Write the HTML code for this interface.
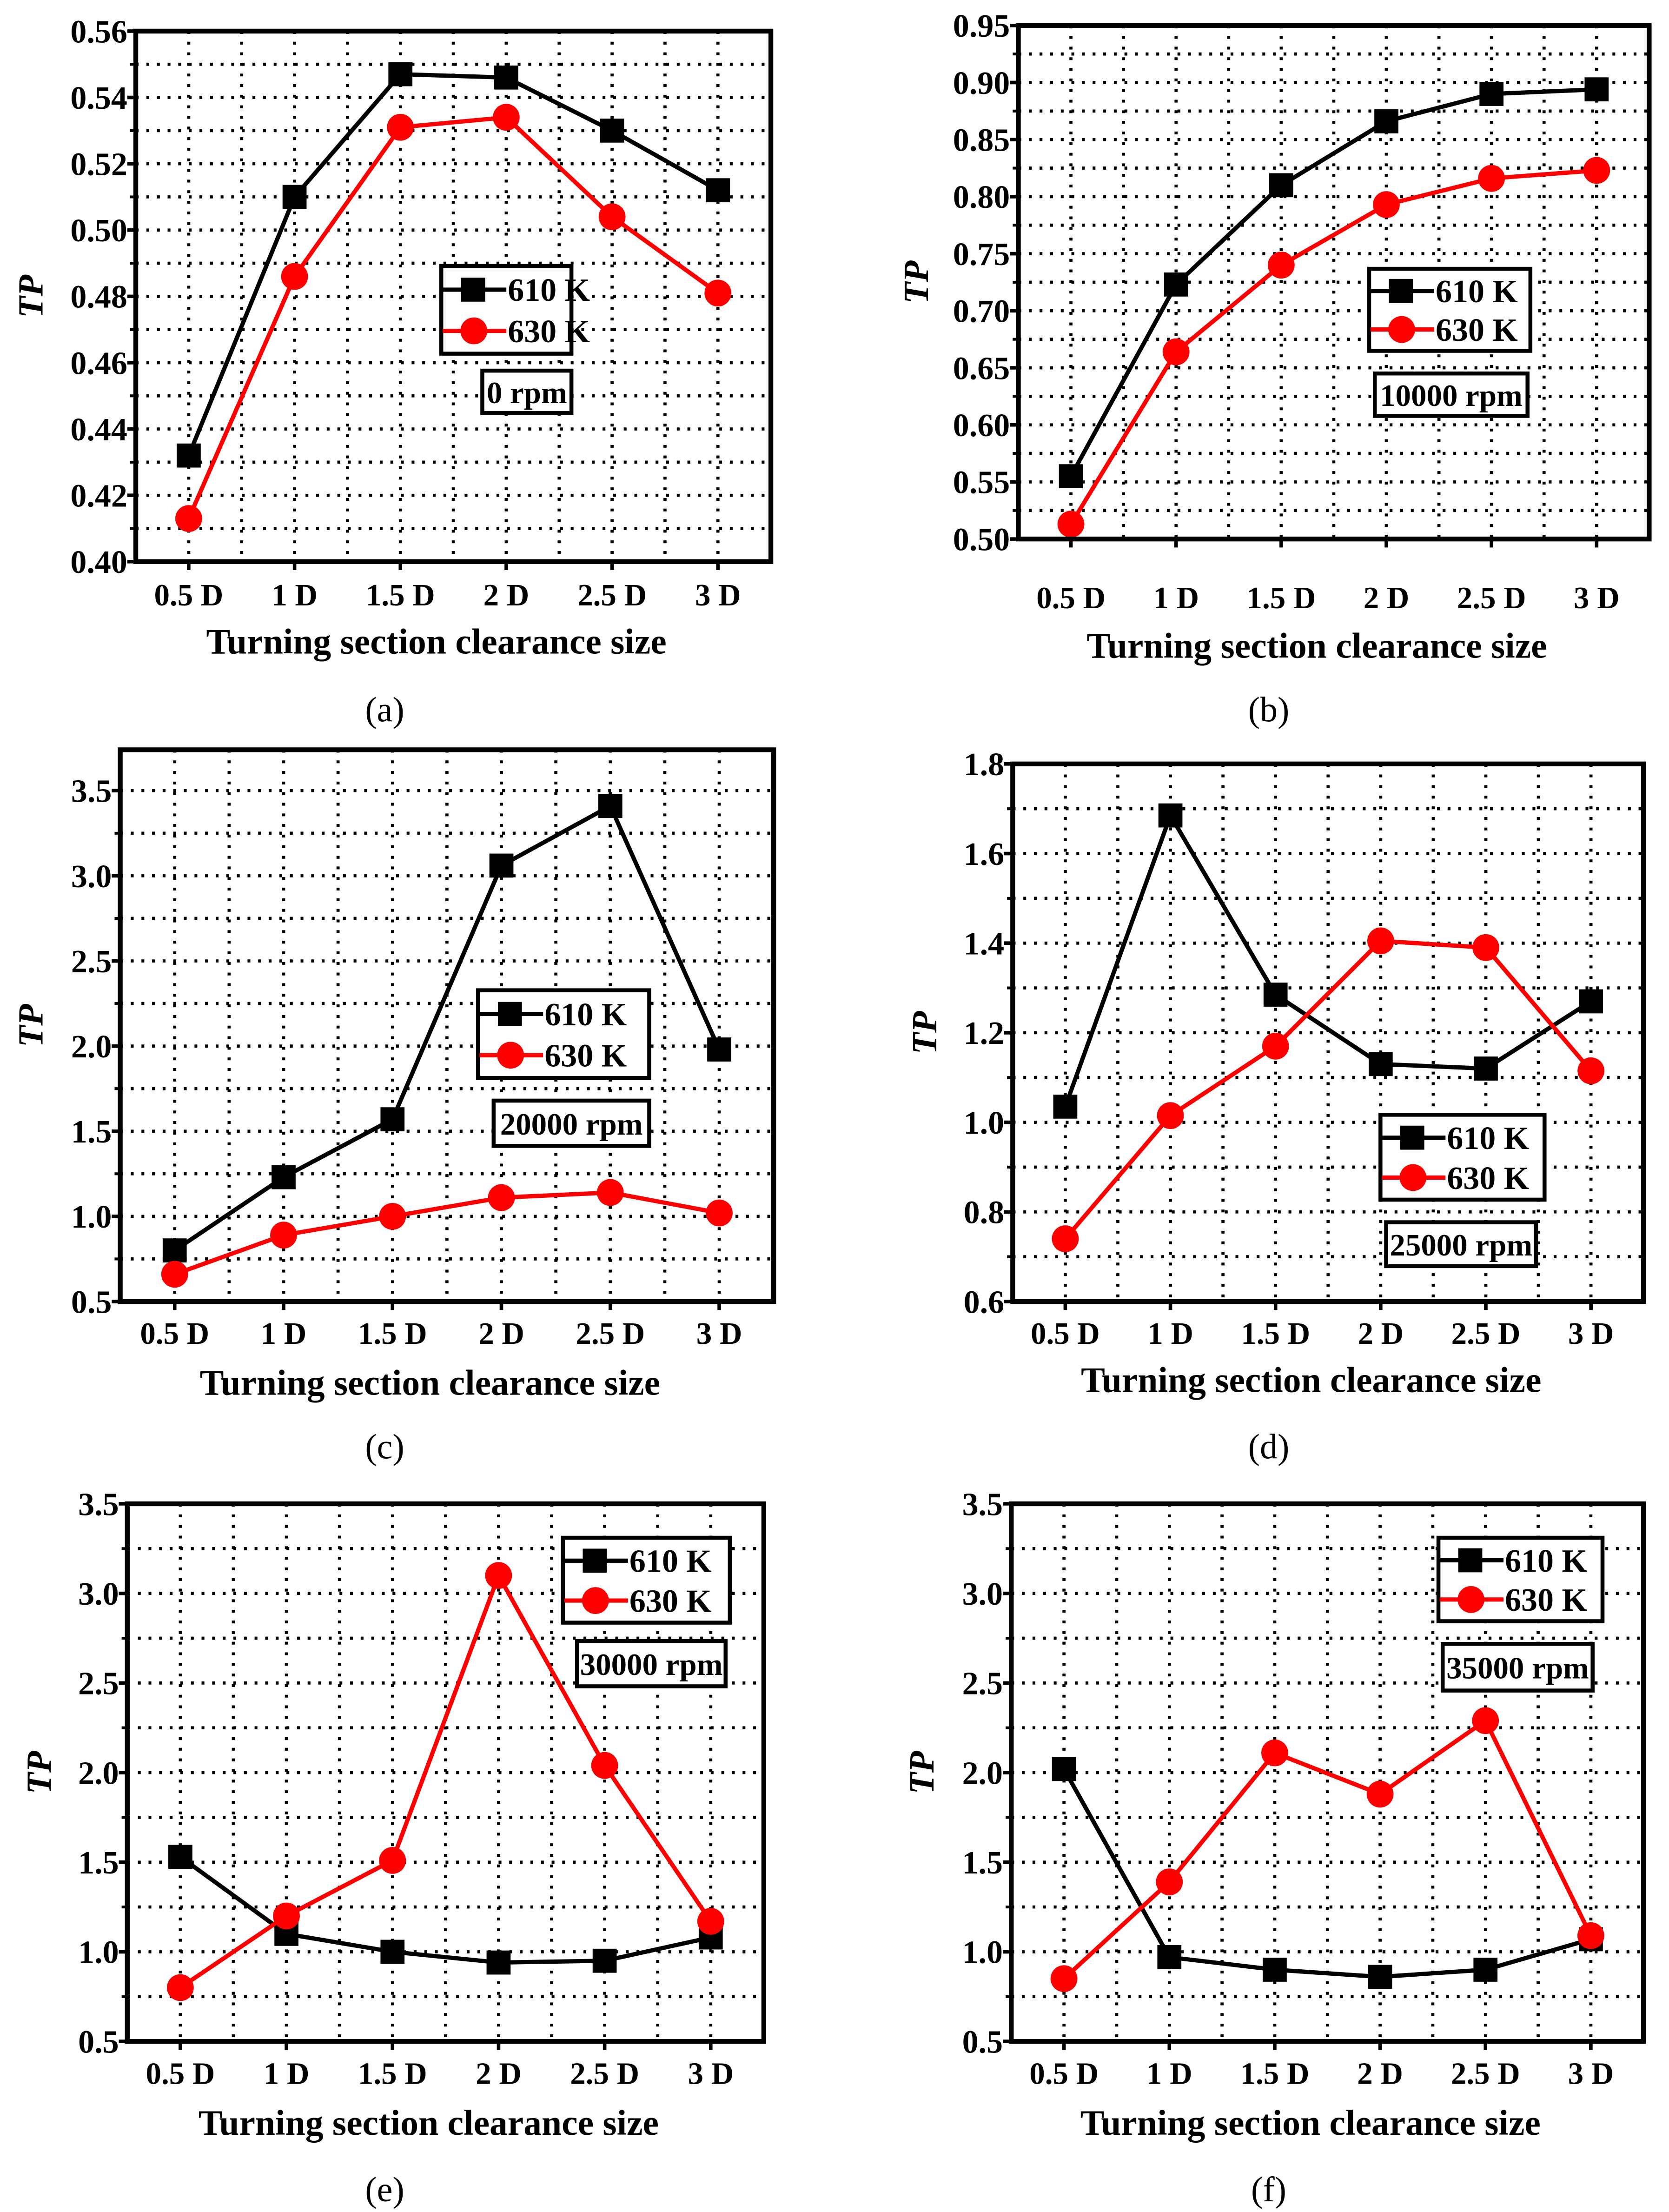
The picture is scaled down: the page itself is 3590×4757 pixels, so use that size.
<!DOCTYPE html>
<html><head><meta charset="utf-8"><style>
html,body{margin:0;padding:0;background:#fff;}
svg{display:block;}
text{font-family:"Liberation Serif",serif;font-weight:bold;fill:#000;}
text.plain{font-weight:normal;}
</style></head><body>
<svg id="fig" width="3590" height="4757" viewBox="0 0 1180 1563.6" xmlns="http://www.w3.org/2000/svg"></svg>
<script>
const categories = ["0.5 D","1 D","1.5 D","2 D","2.5 D","3 D"];
const seriesNames = ["610 K","630 K"];
const aK610 = [0.432,0.510,0.547,0.546,0.530,0.512];
const aK630 = [0.413,0.486,0.531,0.534,0.504,0.481];
const bK610 = [0.555,0.723,0.810,0.866,0.890,0.894];
const bK630 = [0.513,0.664,0.740,0.793,0.816,0.823];
const cK610 = [0.80,1.23,1.57,3.06,3.41,1.98];
const cK630 = [0.66,0.89,1.00,1.11,1.14,1.02];
const dK610 = [1.035,1.685,1.285,1.13,1.12,1.27];
const dK630 = [0.74,1.015,1.17,1.405,1.39,1.115];
const eK610 = [1.53,1.10,1.00,0.94,0.95,1.08];
const eK630 = [0.80,1.20,1.51,3.10,2.04,1.17];
const fK610 = [2.02,0.97,0.90,0.86,0.90,1.07];
const fK630 = [0.85,1.39,2.11,1.88,2.29,1.09];
const aTicks = ["0.40","0.42","0.44","0.46","0.48","0.50","0.52","0.54","0.56"];
const bTicks = ["0.50","0.55","0.60","0.65","0.70","0.75","0.80","0.85","0.90","0.95"];
const cTicks = ["0.5","1.0","1.5","2.0","2.5","3.0","3.5"];
const dTicks = ["0.6","0.8","1.0","1.2","1.4","1.6","1.8"];
const eTicks = ["0.5","1.0","1.5","2.0","2.5","3.0","3.5"];
const rpmLabels = ["0 rpm","10000 rpm","20000 rpm","25000 rpm","30000 rpm","35000 rpm"];
const panelLetters = ["(a)","(b)","(c)","(d)","(e)","(f)"];

const panels = [
 {L:96,R:545,T:22,B:397,ymin:0.40,ymax:0.56,ticks:aTicks,s1:aK610,s2:aK630,leg:[312,188,404,250],rpm:[341,262,404,292],tx:420,tt:453,lt:502,cx:272,yl:22},
 {L:720,R:1166,T:18,B:381,ymin:0.50,ymax:0.95,ticks:bTicks,s1:bK610,s2:bK630,leg:[968,190,1082,248],rpm:[972,264,1080,294],tx:422,tt:456,lt:502,cx:897,yl:648},
 {L:85,R:547,T:530,B:920,ymin:0.5,ymax:3.74,ticks:cTicks,s1:cK610,s2:cK630,leg:[338,700,459,762],rpm:[349,778,459,810],tx:942,tt:977,lt:1023,cx:272,yl:22},
 {L:716,R:1162,T:540,B:920,ymin:0.6,ymax:1.8,ticks:dTicks,s1:dK610,s2:dK630,leg:[976,788,1092,848],rpm:[980,864,1086,895],tx:942,tt:975,lt:1023,cx:897,yl:654},
 {L:90,R:540,T:1063,B:1443,ymin:0.5,ymax:3.5,ticks:eTicks,s1:eK610,s2:eK630,leg:[398,1087,516,1147],rpm:[408,1160,513,1192],tx:1465,tt:1500,lt:1548,cx:272,yl:28},
 {L:715,R:1162,T:1063,B:1443,ymin:0.5,ymax:3.5,ticks:eTicks,s1:fK610,s2:fK630,leg:[1017,1087,1133,1146],rpm:[1020,1162,1126,1195],tx:1465,tt:1500,lt:1548,cx:897,yl:652}
];
const NS="http://www.w3.org/2000/svg";
const svg=document.getElementById('fig');
function mk(tag,attrs,parent,txt){const e=document.createElementNS(NS,tag);for(const k in attrs)e.setAttribute(k,attrs[k]);if(txt!==undefined)e.textContent=txt;parent.appendChild(e);return e;}

panels.forEach((p,pi)=>{
 const g=mk('g',{},svg);
 
 
 const n=categories.length, sp=(p.R-p.L)/n;
 const xs=i=>p.L+(i+0.5)*sp;
 const ys=v=>p.B-(v-p.ymin)/(p.ymax-p.ymin)*(p.B-p.T);
 const tv=p.ticks.map(Number); const step=tv[1]-tv[0];
 for(let v=p.ymin+step/2; v<p.ymax-1e-6; v+=step/2){
  const y=ys(v);
  const l=mk('line',{x1:p.L,x2:p.R,y1:y,y2:y,stroke:'#000','stroke-width':2.2,'stroke-dasharray':'2 5.5'},g);
  
  
 }
 for(let k=1;k<2*n;k++){
  const x=p.L+k*sp/2;
  const l=mk('line',{x1:x,x2:x,y1:p.T,y2:p.B,stroke:'#000','stroke-width':2.2,'stroke-dasharray':'2 5.5'},g);
  
  
 }
 p.ticks.forEach((t,i)=>{
  const y=ys(tv[i]);
  mk('line',{x1:p.L-6,x2:p.L,y1:y,y2:y,stroke:'#000','stroke-width':2.5},g);
  const tx=mk('text',{x:p.L-6,y:y+8,'font-size':23,'text-anchor':'end'},g,t);
  
  
  if(i<tv.length-1){const ym=ys(tv[i]+step/2);mk('line',{x1:p.L-4,x2:p.L,y1:ym,y2:ym,stroke:'#000','stroke-width':2},g);}
 });
 categories.forEach((c,i)=>{
  const x=xs(i);
  mk('line',{x1:x,x2:x,y1:p.B,y2:p.B+6,stroke:'#000','stroke-width':2.5},g);
  const tx=mk('text',{x:x,y:p.tx+8,'font-size':22,'text-anchor':'middle'},g,c);
  
  
 });
 const at=mk('text',{x:(p.L+p.R)/2-12,y:p.tt+9,'font-size':25.5,'text-anchor':'middle'},g,'Turning section clearance size');
 
 
 const yt=mk('text',{x:0,y:0,'font-size':25,'text-anchor':'middle','font-style':'italic',transform:`translate(${p.yl+8},${(p.T+p.B)/2}) rotate(-90)`},g,'TP');
 
 
 const pl=mk('text',{x:p.cx,y:p.lt+8,'font-size':25,'text-anchor':'middle','class':'plain'},g,panelLetters[pi]);
 
 
 [[p.s1,'#000','sq'],[p.s2,'#ff0000','ci']].forEach(([s,col,m],si)=>{
  const pts=s.map((v,i)=>xs(i)+','+ys(v)).join(' ');
  const pl2=mk('polyline',{points:pts,fill:'none',stroke:col,'stroke-width':3},g);
  
  
  s.forEach((v,i)=>{
   let e;
   if(m==='sq') e=mk('rect',{x:xs(i)-8.5,y:ys(v)-8.5,width:17,height:17,fill:col},g);
   else e=mk('circle',{cx:xs(i),cy:ys(v),r:9.5,fill:col},g);
   
   
  });
 });
 const fr=mk('rect',{x:p.L,y:p.T,width:p.R-p.L,height:p.B-p.T,fill:'none',stroke:'#000','stroke-width':3.4},g);
 
 
 const [lx1,ly1,lx2,ly2]=p.leg;
 const lg=mk('g',{},g);
 
 
 mk('rect',{x:lx1,y:ly1,width:lx2-lx1,height:ly2-ly1,fill:'#fff',stroke:'#000','stroke-width':2.8},lg);
 const h=(ly2-ly1);
 [[ly1+h*0.27,'#000','sq'],[ly1+h*0.74,'#ff0000','ci']].forEach(([y,col,m],si)=>{
  const le=mk('g',{},lg);
  
  
  mk('line',{x1:lx1+1,x2:lx1+46,y1:y,y2:y,stroke:col,'stroke-width':3},le);
  if(m==='sq') mk('rect',{x:lx1+14,y:y-8.5,width:17,height:17,fill:col},le);
  else mk('circle',{cx:lx1+23,cy:y,r:9.5,fill:col},le);
  mk('text',{x:lx1+47,y:y+8,'font-size':23},le,seriesNames[si]);
 });
 const [rx1,ry1,rx2,ry2]=p.rpm;
 const rb=mk('g',{},g);
 
 
 mk('rect',{x:rx1,y:ry1,width:rx2-rx1,height:ry2-ry1,fill:'#fff',stroke:'#000','stroke-width':2.8},rb);
 mk('text',{x:(rx1+rx2)/2,y:(ry1+ry2)/2+8,'font-size':22,'text-anchor':'middle'},rb,rpmLabels[pi]);
});
</script>
</body></html>
